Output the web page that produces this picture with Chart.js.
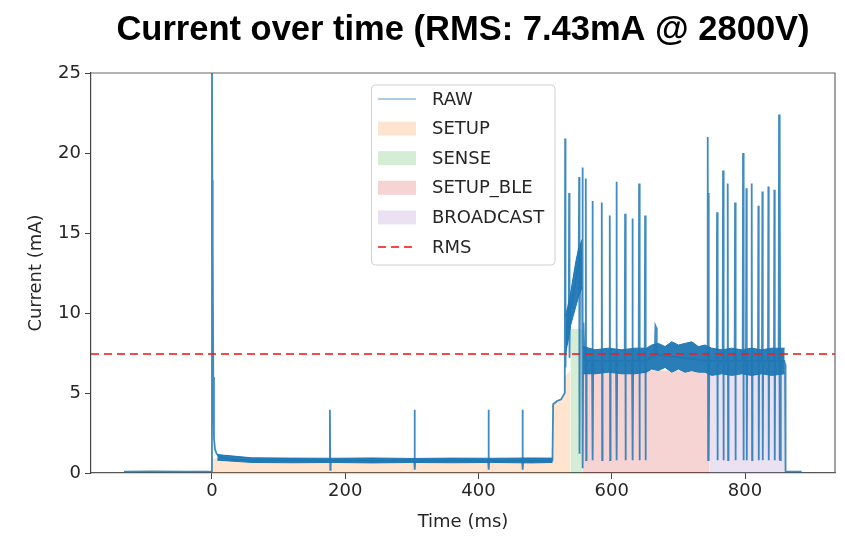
<!DOCTYPE html>
<html>
<head>
<meta charset="utf-8">
<title>Current over time</title>
<script src="https://cdn.jsdelivr.net/npm/chart.js@4.4.1/dist/chart.umd.min.js"></script>
<style>
  html, body { margin: 0; padding: 0; background: #fff; }
  #wrap { width: 845px; height: 545px; }
</style>
</head>
<body>
<div id="wrap"><canvas id="chart" width="845" height="545"></canvas></div>
<script>
// titulo y ejes
const titleText = 'Current over time (RMS: 7.43mA @ 2800V)';
const xTicks = [0, 200, 400, 600, 800];
const yTicks = [0, 5, 10, 15, 20, 25];
const rmsValue = 7.43;

// senal cruda [ms, mA]
const rawSignal = [
  [-132, 0.08], [-90, 0.1], [-40, 0.09], [-1, 0.1],
  [0, 26], [0.6, 18.3], [1.2, 14], [2, 6], [3, 2.2], [4.5, 1.5], [7, 1.2], [12, 1.0], [25, 0.85], [60, 0.78],
  [176.4, 0.78], [177, 3.95], [177.6, 0.2], [178.2, 0.78],
  [303.4, 0.78], [304, 3.95], [304.6, 0.2], [305.2, 0.78],
  [414.4, 0.78], [415, 3.95], [415.6, 0.2], [416.2, 0.78],
  [465.4, 0.78], [466, 3.95], [466.6, 0.2], [467.2, 0.78],
  [511, 0.78], [512, 4.3], [518, 4.5], [524, 4.6], [528, 4.9],
  [529.5, 5.0], [530, 20.9], [530.6, 6.6], [531.5, 9.5], [533, 8.0], [535.5, 9.8], [536, 17.5], [536.6, 7.2],
  [537.4, 10.2], [541, 10.8], [545, 11.8], [548, 12.6], [550.4, 13.2], [551, 18.5], [551.6, 1.2], [552.4, 13.6],
  [555.4, 14.0], [556, 19.1], [556.6, 0.3], [557.4, 9.4], [559, 7.2], [560.4, 7.0], [561, 18.4], [561.6, 0.8], [562.2, 7.0],
  [570.4, 7.0], [571, 17.0], [571.6, 0.8], [572.2, 7.0],
  [584.4, 7.0], [585, 16.9], [585.6, 0.8], [586.2, 7.0],
  [596.4, 7.0], [597, 16.1], [597.6, 0.8], [598.2, 7.0],
  [606.4, 7.0], [607, 18.2], [607.6, 0.8], [608.2, 7.0],
  [619.4, 7.0], [620, 16.2], [620.6, 0.8], [621.2, 7.0],
  [630.4, 7.0], [631, 15.9], [631.6, 0.8], [632.2, 7.0],
  [640.4, 7.0], [641, 18.1], [641.6, 0.8], [642.2, 7.0],
  [649.4, 7.0], [650, 16.1], [650.6, 0.8], [651.2, 7.0],
  [664.5, 7.4], [665.5, 9.2], [666.5, 9.1], [667.5, 7.4],
  [743.4, 7.0], [744, 21.0], [744.6, 0.8], [745.2, 17.5], [745.8, 0.8], [746.4, 7.0],
  [757.4, 7.0], [758, 16.3], [758.6, 0.8], [759.2, 7.0],
  [766.4, 7.0], [767, 18.9], [767.6, 0.8], [768.2, 7.0],
  [773.4, 7.0], [774, 18.1], [774.6, 0.8], [775.2, 7.0],
  [784.4, 7.0], [785, 16.9], [785.6, 0.8], [786.2, 7.0],
  [796.4, 7.0], [797, 20.0], [797.6, 0.8], [798.2, 7.0],
  [801.4, 7.0], [802, 17.8], [802.6, 0.8], [803.2, 7.0],
  [809.4, 7.0], [810, 18.1], [810.6, 0.8], [811.2, 7.0],
  [819.4, 7.0], [820, 16.7], [820.6, 0.8], [821.2, 7.0],
  [825.4, 7.0], [826, 17.6], [826.6, 0.8], [827.2, 7.0],
  [834.4, 7.0], [835, 17.9], [835.6, 0.8], [836.2, 7.0],
  [843.4, 7.0], [844, 17.7], [844.6, 0.8], [845.2, 7.0],
  [850.4, 7.0], [851, 22.4], [851.6, 0.8], [852.4, 20.2], [853, 0.8], [853.6, 7.0],
  [859, 7.0], [860, 6.8], [860.8, 0.1], [885, 0.08]
];

// bandas de ruido (borde superior / inferior)
const baseBandT  = [8, 60, 120, 180, 240, 300, 360, 420, 480, 511];
const baseBandHi = [1.15, 0.95, 0.93, 0.92, 0.94, 0.91, 0.93, 0.92, 0.94, 0.93];
const baseBandLo = [0.8, 0.66, 0.64, 0.66, 0.63, 0.66, 0.64, 0.66, 0.63, 0.66];

const rampBandT  = [530.5, 534, 538, 542, 546, 550, 555.5];
const rampBandHi = [9.8, 10.4, 11.2, 12.2, 13.2, 14.0, 14.6];
const rampBandLo = [7.4, 8.2, 9.2, 9.8, 10.4, 11.0, 11.6];

const bleBandT  = [557, 575, 595, 615, 635, 652, 660, 670, 680, 690, 700, 710, 720, 730, 740, 750, 765, 780, 795, 810, 825, 840, 859.5];
const bleBandHi = [7.9, 7.7, 7.8, 7.7, 7.8, 7.8, 8.0, 8.1, 7.9, 8.2, 8.0, 8.1, 8.2, 7.9, 8.0, 7.8, 7.7, 7.8, 7.7, 7.8, 7.7, 7.8, 7.8];
const bleBandLo = [6.2, 6.2, 6.3, 6.2, 6.2, 6.3, 6.5, 6.4, 6.6, 6.3, 6.5, 6.3, 6.4, 6.3, 6.3, 6.1, 6.2, 6.1, 6.2, 6.1, 6.2, 6.1, 6.2];

// fases sombreadas
const phaseNames = ['SETUP', 'SENSE', 'SETUP_BLE', 'BROADCAST'];
const phaseFills = [
  [[0, 0.9], [511, 0.8], [511.5, 4.3], [528, 4.8], [529, 6.0], [538, 6.4]],
  [[538, 9.0], [556, 9.0]],
  [[556, 6.4], [747, 6.4]],
  [[747, 6.2], [860, 6.2]]
];
const phaseColors = ['rgba(255,127,14,0.2)', 'rgba(44,160,44,0.2)', 'rgba(214,39,40,0.2)', 'rgba(148,103,189,0.2)'];

const X_MIN = -181.5, X_MAX = 935;
const BLUE = '#1f77b4';
const TEXT = '#262626';
const FONT = 'DejaVu Sans';

const toXY = arr => arr.map(p => ({ x: p[0], y: p[1] }));
const band = (t, v) => t.map((x, i) => ({ x: x, y: v[i] }));

const datasets = [];

// 0: RAW
datasets.push({
  label: 'RAW', legendKind: 'line', data: toXY(rawSignal),
  borderColor: 'rgba(31,119,180,0.85)', borderWidth: 1.8, pointRadius: 0, fill: false, order: 2
});

// bandas: pares hi/lo, hi rellena hasta lo
[[baseBandT, baseBandHi, baseBandLo], [rampBandT, rampBandHi, rampBandLo], [bleBandT, bleBandHi, bleBandLo]].forEach(b => {
  const hiIndex = datasets.length;
  datasets.push({
    label: 'band', legendKind: null, data: band(b[0], b[1]),
    borderColor: BLUE, backgroundColor: 'rgba(31,119,180,0.95)', borderWidth: 1,
    pointRadius: 0, fill: hiIndex + 1, order: 3
  });
  datasets.push({
    label: 'band', legendKind: null, data: band(b[0], b[2]),
    borderColor: BLUE, borderWidth: 1, pointRadius: 0, fill: false, order: 3
  });
});

phaseNames.forEach((name, i) => {
  datasets.push({
    label: name, legendKind: 'patch', data: toXY(phaseFills[i]),
    borderWidth: 0, borderColor: 'rgba(0,0,0,0)', backgroundColor: phaseColors[i],
    pointRadius: 0, fill: 'origin', order: 5
  });
});

datasets.push({
  label: 'RMS', legendKind: 'dash', data: [{ x: X_MIN, y: rmsValue }, { x: X_MAX, y: rmsValue }],
  borderColor: 'rgba(240,30,30,0.8)', borderWidth: 2, borderDash: [8, 5], pointRadius: 0, fill: false, order: 1
});

// titulo grande desplazado como en la figura
const titlePlugin = {
  id: 'bigTitle',
  afterDraw(chart) {
    const ctx = chart.ctx;
    ctx.save();
    ctx.font = 'bold 34.5px "Liberation Sans"';
    ctx.fillStyle = '#000';
    ctx.textAlign = 'center';
    ctx.textBaseline = 'middle';
    ctx.fillText(titleText, 463, 30);
    ctx.restore();
  }
};

// marco superior y derecho (estilo matplotlib)
const framePlugin = {
  id: 'frame',
  afterDatasetsDraw(chart) {
    const a = chart.chartArea, ctx = chart.ctx;
    ctx.save();
    ctx.strokeStyle = '#666';
    ctx.lineWidth = 1.2;
    ctx.beginPath();
    ctx.moveTo(a.left, a.top);
    ctx.lineTo(a.right, a.top);
    ctx.lineTo(a.right, a.bottom);
    ctx.stroke();
    ctx.restore();
  }
};

// leyenda dentro del area
const legendPlugin = {
  id: 'innerLegend',
  afterDraw(chart) {
    const ctx = chart.ctx;
    const items = chart.data.datasets.filter(d => d.legendKind);
    const bx = 371.5, by = 85, bw = 183.5, bh = 180, row = 29.6;
    ctx.save();
    ctx.beginPath();
    ctx.roundRect(bx, by, bw, bh, 4);
    ctx.fillStyle = 'rgba(255,255,255,0.85)';
    ctx.fill();
    ctx.strokeStyle = '#d0d0d0';
    ctx.lineWidth = 1;
    ctx.stroke();
    ctx.font = '18px "' + FONT + '"';
    ctx.textBaseline = 'middle';
    ctx.textAlign = 'left';
    items.forEach((d, i) => {
      const cy = by + 14 + i * row;
      const hx = 378, hw = 38;
      if (d.legendKind === 'line') {
        ctx.strokeStyle = 'rgba(31,119,180,0.5)';
        ctx.lineWidth = 1.5;
        ctx.setLineDash([]);
        ctx.beginPath(); ctx.moveTo(hx, cy); ctx.lineTo(hx + hw, cy); ctx.stroke();
      } else if (d.legendKind === 'patch') {
        ctx.fillStyle = d.backgroundColor;
        ctx.fillRect(hx, cy - 7, hw, 14);
      } else {
        ctx.strokeStyle = d.borderColor;
        ctx.lineWidth = 2;
        ctx.setLineDash([8, 5]);
        ctx.beginPath(); ctx.moveTo(hx, cy); ctx.lineTo(hx + hw, cy); ctx.stroke();
        ctx.setLineDash([]);
      }
      ctx.fillStyle = TEXT;
      ctx.fillText(d.label, 432, cy + 1);
    });
    ctx.restore();
  }
};

new Chart(document.getElementById('chart'), {
  type: 'line',
  data: { datasets: datasets },
  plugins: [titlePlugin, framePlugin, legendPlugin],
  options: {
    responsive: false,
    animation: false,
    parsing: true,
    layout: { padding: { top: 73, right: 10, left: 0, bottom: 0 } },
    plugins: {
      legend: { display: false },
      title: { display: false },
      tooltip: { enabled: false }
    },
    elements: { line: { tension: 0 } },
    scales: {
      x: {
        type: 'linear', min: X_MIN, max: X_MAX,
        afterBuildTicks: s => { s.ticks = xTicks.map(v => ({ value: v })); },
        afterFit: s => { s.height = 72; },
        ticks: { color: TEXT, font: { family: FONT, size: 18 }, padding: 2, maxRotation: 0, autoSkip: false },
        grid: { drawOnChartArea: false, drawTicks: true, tickLength: 6, color: '#444' },
        border: { color: '#555', width: 1.2 },
        title: { display: true, text: 'Time (ms)', color: TEXT, font: { family: FONT, size: 18 }, padding: { top: 0, bottom: 12 } }
      },
      y: {
        type: 'linear', min: 0, max: 25,
        afterBuildTicks: s => { s.ticks = yTicks.map(v => ({ value: v })); },
        afterFit: s => { s.width = 91; },
        ticks: { color: TEXT, font: { family: FONT, size: 18 }, padding: 4 },
        grid: { drawOnChartArea: false, drawTicks: true, tickLength: 6, color: '#444' },
        border: { color: '#444', width: 1.2 },
        title: { display: true, text: 'Current (mA)', color: TEXT, font: { family: FONT, size: 18 }, padding: { top: 26, bottom: 0 } }
      }
    }
  }
});
</script>
</body>
</html>
